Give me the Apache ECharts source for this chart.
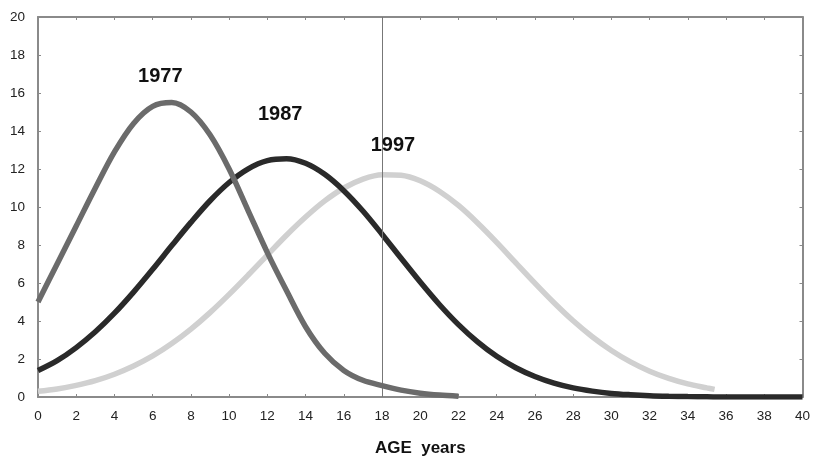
<!DOCTYPE html>
<html>
<head>
<meta charset="utf-8">
<script src="https://cdn.jsdelivr.net/npm/echarts@6/dist/echarts.min.js"></script>
<style>
html,body{margin:0;padding:0;background:#fff;}
#chart{width:813px;height:462px;}
</style>
</head>
<body>
<div id="chart"></div>
<script>
// Age (years) sample points
var ages1977 = [0,1,2,3,4,5,6,7,8,9,10,11,12,13,14,15,16,17,18,19,20,21,22];
var values1977 = [5.0,7.0,9.0,11.0,12.9,14.4,15.3,15.5,15.0,13.8,12.0,9.8,7.6,5.6,3.7,2.3,1.4,0.88,0.6,0.36,0.2,0.1,0.04];

var ages1987 = [0,1,2,3,4,5,6,7,8,9,10,11,12,13,14,15,16,17,18,19,20,21,22,23,24,25,26,27,28,29,30,31,32,33,34,35,36,37,38,39,40];
var values1987 = [1.39,1.91,2.60,3.43,4.41,5.52,6.72,7.97,9.19,10.33,11.29,12.01,12.44,12.54,12.30,11.72,10.86,9.79,8.57,7.30,6.05,4.87,3.81,2.90,2.14,1.54,1.08,0.73,0.48,0.31,0.19,0.12,0.07,0.04,0.02,0.01,0,0,0,0,0];

var ages1997 = [0,1,2,3,4,5,6,7,8,9,10,11,12,13,14,15,16,17,18,19,20,21,22,23,24,25,26,27,28,29,30,31,32,33,34,35,35.4];
var values1997 = [0.30,0.42,0.61,0.86,1.20,1.63,2.16,2.81,3.57,4.44,5.40,6.42,7.47,8.51,9.47,10.32,11.00,11.47,11.70,11.67,11.38,10.83,10.08,9.16,8.14,7.06,5.99,4.96,4.01,3.17,2.45,1.85,1.36,0.98,0.69,0.48,0.40];

var seriesNames = ['1977','1987','1997'];
var seriesColors = ['#6b6b6b','#2a2a2a','#d0d0d0'];
// label anchor points (data coords) above each peak
var labelAges = [6.4, 12.67, 18.57];
var labelValues = [16.89, 14.88, 13.24];
var markerAge = 18;

var xMin = 0, xMax = 40, xStep = 2;
var yMin = 0, yMax = 20, yStep = 2;
var xTitle = 'AGE  years';

function pairs(xs, ys){ return xs.map(function(x,i){ return [x, ys[i]]; }); }

var allAges = [ages1977, ages1987, ages1997];
var allValues = [values1977, values1987, values1997];

var FONT = 'Liberation Sans, Arial, sans-serif';
var frameColor = '#8a8a8a';

var series = seriesNames.map(function(name, i){
  var s = {
    name: name,
    type: 'line',
    smooth: 0.33,
    symbol: 'none',
    data: pairs(allAges[i], allValues[i]),
    lineStyle: {color: seriesColors[i], width: 5.5},
    z: 3 + (2 - i),
    markPoint: {
      symbol: 'circle', symbolSize: 0,
      data: [{coord: [labelAges[i], labelValues[i]], value: name}],
      label: {show: true, formatter: name, color: '#111', fontFamily: FONT, fontWeight: 'bold', fontSize: 20, position: 'inside'}
    }
  };
  if (i === 0) {
    s.markLine = {
      silent: true, symbol: 'none',
      lineStyle: {color: '#777', width: 1, type: 'solid'},
      label: {show: false},
      data: [{xAxis: markerAge}]
    };
  }
  return s;
});

var chart = echarts.init(document.getElementById('chart'), null, {renderer: 'canvas'});
chart.setOption({
  animation: false,
  backgroundColor: '#fff',
  grid: {left: 38, right: 8, top: 17, bottom: 62, containLabel: false},
  xAxis: [{
    type: 'value', min: xMin, max: xMax, interval: xStep, position: 'bottom',
    name: xTitle, nameLocation: 'middle', nameGap: 43,
    nameTextStyle: {fontFamily: FONT, fontWeight: 'bold', fontSize: 17, color: '#111'},
    axisLine: {show: true, onZero: false, lineStyle: {color: frameColor, width: 2}},
    axisTick: {show: true, inside: true, length: 3, lineStyle: {color: frameColor, width: 1}},
    axisLabel: {fontFamily: FONT, fontSize: 13.5, color: '#222', margin: 12},
    splitLine: {show: false}
  },{
    type: 'value', min: xMin, max: xMax, interval: xStep, position: 'top',
    axisLine: {show: true, onZero: false, lineStyle: {color: frameColor, width: 2}},
    axisTick: {show: true, inside: true, length: 3, lineStyle: {color: frameColor, width: 1}},
    axisLabel: {show: false}, splitLine: {show: false}
  }],
  yAxis: [{
    type: 'value', min: yMin, max: yMax, interval: yStep, position: 'left',
    axisLine: {show: true, onZero: false, lineStyle: {color: frameColor, width: 2}},
    axisTick: {show: true, inside: true, length: 3, lineStyle: {color: frameColor, width: 1}},
    axisLabel: {fontFamily: FONT, fontSize: 13.5, color: '#222', margin: 13},
    splitLine: {show: false}
  },{
    type: 'value', min: yMin, max: yMax, interval: yStep, position: 'right',
    axisLine: {show: true, onZero: false, lineStyle: {color: frameColor, width: 2}},
    axisTick: {show: true, inside: true, length: 3, lineStyle: {color: frameColor, width: 1}},
    axisLabel: {show: false}, splitLine: {show: false}
  }],
  series: series
});
</script>
</body>
</html>
